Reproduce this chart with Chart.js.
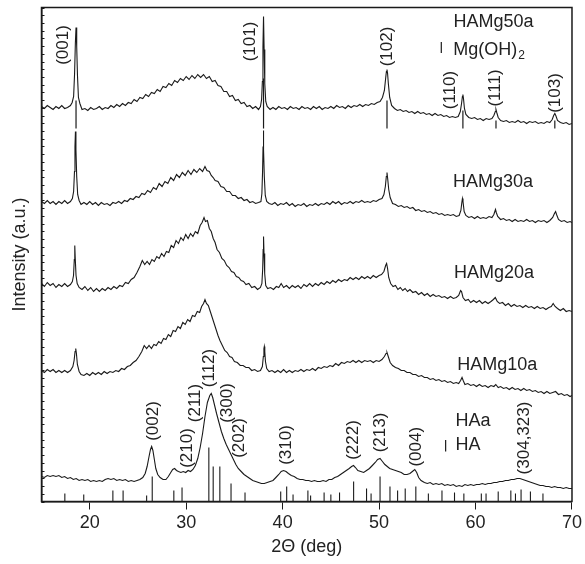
<!DOCTYPE html>
<html>
<head>
<meta charset="utf-8">
<script src="https://cdn.jsdelivr.net/npm/chart.js@4.4.1/dist/chart.umd.min.js"></script>
<style>
  html, body { margin: 0; padding: 0; background: #fff; }
  #wrap { width: 585px; height: 564px; position: relative; }
</style>
</head>
<body>
<div id="wrap"><canvas id="xrd"></canvas></div>
<script>
// [2θ (deg), intensity (a.u.)] - curves are stacked with an offset, as in the figure
const hamg50a = [[15.0,395],[15.3,393],[15.6,396],[15.9,394],[16.2,392],[16.5,395],[16.8,393],[17.1,396],[17.4,393],[17.7,394],[18.0,396],[18.18,399],[18.33,405],[18.43,428],[18.51,458],[18.58,474],[18.65,455],[18.73,426],[18.83,404],[18.98,398],[19.2,392],[19.5,393],[19.8,391],[20.1,394],[20.4,392],[20.7,393],[21.0,395],[21.3,392],[21.6,394],[21.9,393],[22.2,396],[22.5,394],[22.8,397],[23.1,395],[23.4,398],[23.7,396],[24.0,399],[24.3,398],[24.6,402],[24.9,400],[25.2,404],[25.5,403],[25.8,407],[26.1,405],[26.4,409],[26.7,408],[27.0,412],[27.3,410],[27.6,415],[27.9,414],[28.2,418],[28.5,416],[28.8,421],[29.1,419],[29.4,423],[29.7,421],[30.0,425],[30.3,422],[30.6,426],[30.9,423],[31.2,427],[31.5,424],[31.8,427],[32.1,423],[32.4,425],[32.7,420],[33.0,421],[33.3,416],[33.6,415],[33.9,410],[34.2,410],[34.5,405],[34.8,406],[35.1,401],[35.4,402],[35.7,398],[36.0,399],[36.3,395],[36.6,396],[36.9,393],[37.2,395],[37.5,392],[37.7,395],[37.82,402],[37.9,420],[37.96,455],[38.02,485],[38.08,452],[38.15,418],[38.25,400],[38.4,395],[38.7,392],[39.0,394],[39.3,392],[39.6,395],[39.9,393],[40.2,394],[40.5,392],[40.8,395],[41.1,393],[41.4,394],[41.7,392],[42.0,395],[42.3,393],[42.6,394],[42.9,392],[43.2,395],[43.5,393],[43.8,395],[44.1,392],[44.4,394],[44.7,393],[45.0,395],[45.3,393],[45.6,396],[45.9,394],[46.2,395],[46.5,393],[46.8,396],[47.1,394],[47.4,396],[47.7,395],[48.0,397],[48.3,395],[48.6,397],[48.9,396],[49.2,398],[49.5,397],[49.8,399],[50.1,400],[50.35,404],[50.55,411],[50.7,425],[50.76,430],[50.82,432],[50.88,428],[50.96,418],[51.1,404],[51.3,396],[51.6,393],[51.9,391],[52.2,392],[52.5,390],[52.8,391],[53.1,389],[53.4,390],[53.7,388],[54.0,390],[54.3,388],[54.6,389],[54.9,387],[55.2,388],[55.5,386],[55.8,388],[56.1,386],[56.4,387],[56.7,385],[57.0,386],[57.3,384],[57.6,385],[57.9,384],[58.2,385],[58.42,390],[58.55,398],[58.64,405],[58.69,407],[58.75,403],[58.85,393],[59.0,387],[59.3,384],[59.6,383],[59.9,384],[60.2,382],[60.5,383],[60.8,381],[61.1,383],[61.4,382],[61.7,383],[61.9,386],[62.05,390],[62.12,392],[62.2,389],[62.35,384],[62.6,381],[62.9,380],[63.2,381],[63.5,379],[63.8,380],[64.1,379],[64.4,381],[64.7,379],[65.0,380],[65.3,378],[65.6,380],[65.9,379],[66.2,380],[66.5,378],[66.8,379],[67.1,378],[67.4,380],[67.7,379],[67.95,382],[68.1,386],[68.22,388],[68.32,386],[68.5,381],[68.8,379],[69.1,378],[69.4,379],[69.7,377],[70.0,378]]

const hamg30a = [[15.0,300],[15.3,298],[15.6,301],[15.9,298],[16.2,300],[16.5,297],[16.8,300],[17.1,298],[17.4,301],[17.7,298],[18.0,300],[18.2,303],[18.33,310],[18.42,330],[18.47,355],[18.52,370],[18.57,352],[18.65,325],[18.75,307],[18.9,301],[19.1,297],[19.4,299],[19.7,297],[20.0,300],[20.3,297],[20.6,299],[20.9,296],[21.2,299],[21.5,297],[21.8,298],[22.1,296],[22.4,299],[22.7,298],[23.0,300],[23.3,298],[23.6,301],[23.9,300],[24.2,303],[24.5,302],[24.8,305],[25.1,304],[25.4,308],[25.7,307],[26.0,311],[26.3,309],[26.6,314],[26.9,312],[27.2,318],[27.5,315],[27.8,320],[28.1,318],[28.4,324],[28.7,321],[29.0,327],[29.3,324],[29.6,329],[29.9,326],[30.2,331],[30.5,327],[30.8,332],[31.1,329],[31.4,333],[31.7,330],[31.95,335],[32.15,331],[32.4,330],[32.6,326],[32.8,324],[33.0,321],[33.3,320],[33.6,315],[33.9,314],[34.2,310],[34.5,310],[34.8,306],[35.1,306],[35.4,303],[35.7,304],[36.0,301],[36.3,302],[36.6,299],[36.9,300],[37.2,298],[37.5,299],[37.75,300],[37.85,308],[37.92,330],[37.97,355],[38.0,371],[38.04,352],[38.1,325],[38.2,306],[38.35,300],[38.6,298],[38.9,297],[39.2,299],[39.5,296],[39.8,298],[40.1,297],[40.4,299],[40.7,296],[41.0,298],[41.3,295],[41.6,297],[41.9,296],[42.2,298],[42.5,295],[42.8,297],[43.1,296],[43.4,298],[43.7,296],[44.0,298],[44.3,297],[44.6,299],[44.9,297],[45.2,300],[45.5,298],[45.8,300],[46.1,297],[46.4,299],[46.7,298],[47.0,300],[47.3,298],[47.6,300],[47.9,299],[48.2,301],[48.5,299],[48.8,300],[49.1,299],[49.4,301],[49.7,300],[50.0,302],[50.3,303],[50.5,307],[50.65,315],[50.75,325],[50.82,329],[50.9,322],[51.0,312],[51.15,304],[51.4,298],[51.7,297],[52.0,295],[52.3,296],[52.6,294],[52.9,295],[53.2,293],[53.5,294],[53.8,291],[54.1,292],[54.4,290],[54.7,291],[55.0,289],[55.3,290],[55.6,288],[55.9,289],[56.2,287],[56.5,288],[56.8,286],[57.1,287],[57.4,286],[57.7,287],[58.0,285],[58.3,286],[58.48,291],[58.58,299],[58.64,303],[58.7,300],[58.82,290],[59.0,286],[59.3,284],[59.6,285],[59.9,283],[60.2,285],[60.5,283],[60.8,284],[61.1,283],[61.4,285],[61.7,284],[61.9,287],[62.0,290],[62.07,292],[62.15,289],[62.3,285],[62.6,282],[62.9,283],[63.2,281],[63.5,282],[63.8,280],[64.1,282],[64.4,280],[64.7,281],[65.0,280],[65.3,282],[65.6,280],[65.9,281],[66.2,279],[66.5,281],[66.8,280],[67.1,281],[67.4,279],[67.7,281],[68.0,284],[68.18,288],[68.3,290],[68.4,287],[68.6,282],[68.9,280],[69.2,281],[69.5,279],[69.8,280],[70.0,279]]

const hamg20a = [[15.0,218],[15.3,215],[15.6,219],[15.9,216],[16.2,218],[16.5,214],[16.8,217],[17.1,215],[17.4,218],[17.7,215],[18.0,217],[18.2,220],[18.32,226],[18.4,242],[18.45,256],[18.5,243],[18.58,226],[18.7,218],[18.9,214],[19.2,212],[19.5,215],[19.8,211],[20.1,214],[20.4,210],[20.7,213],[21.0,210],[21.3,213],[21.6,211],[21.9,214],[22.2,212],[22.5,215],[22.8,213],[23.1,216],[23.4,215],[23.7,219],[24.0,218],[24.3,222],[24.6,224],[24.9,229],[25.2,235],[25.45,241],[25.7,237],[25.95,240],[26.2,237],[26.45,242],[26.7,240],[26.95,245],[27.2,243],[27.45,248],[27.7,245],[27.95,250],[28.2,249],[28.45,256],[28.7,254],[28.95,261],[29.2,258],[29.45,264],[29.7,261],[29.95,267],[30.2,263],[30.45,268],[30.7,265],[30.95,270],[31.2,268],[31.45,276],[31.65,279],[31.85,284],[32.0,280],[32.2,281],[32.4,273],[32.6,270],[32.8,263],[33.0,259],[33.2,252],[33.45,249],[33.7,243],[33.95,241],[34.2,236],[34.45,234],[34.7,230],[34.95,229],[35.2,225],[35.45,224],[35.7,221],[35.95,220],[36.2,217],[36.5,218],[36.8,214],[37.1,215],[37.4,212],[37.7,214],[37.85,218],[37.93,232],[37.98,252],[38.02,265],[38.07,248],[38.14,228],[38.25,216],[38.45,213],[38.75,214],[39.05,212],[39.35,215],[39.6,214],[39.85,218],[40.1,214],[40.4,216],[40.7,213],[41.0,216],[41.3,214],[41.6,216],[41.9,213],[42.2,217],[42.5,215],[42.8,218],[43.1,215],[43.4,218],[43.7,216],[44.0,219],[44.3,217],[44.6,220],[44.9,218],[45.2,221],[45.5,219],[45.8,222],[46.1,220],[46.4,222],[46.7,221],[47.0,224],[47.3,222],[47.6,224],[47.9,222],[48.2,225],[48.5,223],[48.8,225],[49.1,223],[49.4,226],[49.7,224],[50.0,226],[50.25,227],[50.5,230],[50.68,236],[50.78,238],[50.88,233],[51.0,224],[51.2,218],[51.45,215],[51.7,216],[51.95,212],[52.2,214],[52.45,211],[52.7,213],[52.95,210],[53.2,212],[53.5,209],[53.8,210],[54.1,207],[54.4,209],[54.7,206],[55.0,208],[55.3,205],[55.6,207],[55.9,205],[56.2,206],[56.5,204],[56.8,205],[57.1,203],[57.4,205],[57.7,203],[58.0,204],[58.25,206],[58.45,211],[58.55,210],[58.7,204],[58.95,201],[59.25,202],[59.5,199],[59.8,201],[60.1,199],[60.4,201],[60.7,198],[61.0,200],[61.3,198],[61.6,200],[61.85,202],[62.05,204],[62.25,200],[62.5,198],[62.8,199],[63.1,196],[63.4,198],[63.7,195],[64.0,197],[64.3,195],[64.6,196],[64.9,194],[65.2,196],[65.5,194],[65.8,195],[66.1,193],[66.4,195],[66.7,193],[67.0,194],[67.3,192],[67.6,194],[67.85,195],[68.05,198],[68.25,195],[68.5,193],[68.8,191],[69.1,193],[69.4,190],[69.7,191],[70.0,190]]

const hamg10a = [[15.0,131],[15.3,129],[15.6,132],[15.9,130],[16.2,132],[16.5,129],[16.8,131],[17.1,129],[17.4,131],[17.7,129],[18.0,131],[18.25,135],[18.38,141],[18.48,150],[18.55,153],[18.62,148],[18.72,137],[18.9,130],[19.1,127],[19.4,126],[19.7,128],[20.0,126],[20.3,129],[20.6,127],[20.9,129],[21.2,127],[21.5,130],[21.8,128],[22.1,130],[22.4,129],[22.7,131],[23.0,130],[23.3,133],[23.6,132],[23.9,135],[24.2,136],[24.5,139],[24.8,141],[25.1,145],[25.4,150],[25.65,156],[25.9,153],[26.15,156],[26.4,153],[26.65,157],[26.9,156],[27.15,160],[27.4,158],[27.65,163],[27.9,162],[28.15,167],[28.4,165],[28.65,171],[28.9,170],[29.15,175],[29.4,173],[29.65,179],[29.9,177],[30.15,182],[30.4,180],[30.65,186],[30.9,185],[31.15,190],[31.4,189],[31.6,195],[31.8,198],[31.95,202],[32.1,198],[32.3,196],[32.5,190],[32.7,184],[32.9,178],[33.1,172],[33.3,166],[33.5,161],[33.75,156],[34.0,151],[34.25,149],[34.5,145],[34.75,144],[35.0,140],[35.3,139],[35.6,136],[35.9,136],[36.2,134],[36.5,134],[36.8,131],[37.1,132],[37.4,130],[37.7,131],[37.9,135],[38.0,145],[38.06,153],[38.1,155],[38.15,150],[38.22,140],[38.35,133],[38.6,130],[38.9,131],[39.2,129],[39.5,131],[39.8,129],[40.1,132],[40.4,129],[40.7,131],[41.0,129],[41.3,131],[41.6,130],[41.9,132],[42.2,130],[42.5,132],[42.8,131],[43.1,133],[43.4,131],[43.7,134],[44.0,133],[44.3,135],[44.6,134],[44.9,136],[45.2,135],[45.5,138],[45.8,136],[46.1,139],[46.4,138],[46.7,140],[47.0,139],[47.3,141],[47.6,139],[47.9,141],[48.2,139],[48.5,141],[48.8,140],[49.1,141],[49.4,139],[49.7,141],[50.0,140],[50.3,142],[50.55,145],[50.72,148],[50.82,149],[50.95,145],[51.15,139],[51.4,136],[51.7,134],[52.0,133],[52.3,131],[52.6,131],[52.9,129],[53.2,129],[53.5,127],[53.8,127],[54.1,125],[54.4,126],[54.7,124],[55.0,124],[55.3,122],[55.6,123],[55.9,121],[56.2,122],[56.5,120],[56.8,121],[57.1,119],[57.4,120],[57.7,118],[58.0,119],[58.25,118],[58.45,121],[58.6,124],[58.72,121],[58.9,117],[59.2,118],[59.5,116],[59.8,117],[60.1,115],[60.4,117],[60.7,115],[61.0,116],[61.3,114],[61.6,116],[61.9,115],[62.1,117],[62.35,114],[62.6,115],[62.9,113],[63.2,114],[63.5,112],[63.8,114],[64.1,112],[64.4,113],[64.7,111],[65.0,113],[65.3,111],[65.6,112],[65.9,110],[66.2,111],[66.5,109],[66.8,110],[67.1,108],[67.4,110],[67.7,108],[68.0,109],[68.3,110],[68.6,107],[68.9,108],[69.2,106],[69.5,107],[69.8,105],[70.0,106]]

const haa = [[15.0,25],[15.3,24],[15.6,26],[15.9,25],[16.2,26],[16.5,25],[16.8,26],[17.1,24],[17.4,25],[17.7,23],[18.0,24],[18.3,22],[18.6,23],[18.9,21],[19.2,22],[19.5,21],[19.8,22],[20.1,20],[20.4,21],[20.7,20],[21.0,21],[21.3,20],[21.6,22],[21.9,23],[22.2,22],[22.5,23],[22.8,21],[23.1,22],[23.4,21],[23.7,22],[24.0,20],[24.3,21],[24.6,20],[24.9,21],[25.2,22],[25.5,24],[25.75,28],[25.95,35],[26.15,45],[26.3,52],[26.42,55],[26.55,51],[26.7,42],[26.85,33],[27.05,27],[27.3,24],[27.6,22],[27.9,22],[28.15,25],[28.4,29],[28.6,32],[28.8,33],[29.0,31],[29.2,30],[29.45,29],[29.7,30],[29.95,29],[30.2,31],[30.45,30],[30.7,32],[30.95,36],[31.2,43],[31.45,54],[31.7,68],[31.95,85],[32.2,99],[32.45,106],[32.6,108],[32.75,104],[32.95,96],[33.15,88],[33.4,79],[33.65,70],[33.9,63],[34.15,57],[34.4,52],[34.65,47],[34.9,42],[35.15,37],[35.4,33],[35.7,30],[36.0,27],[36.3,25],[36.6,23],[36.9,21],[37.2,20],[37.5,19],[37.8,18],[38.1,18],[38.4,19],[38.7,20],[39.0,21],[39.3,24],[39.6,27],[39.85,30],[40.1,31],[40.35,30],[40.6,28],[40.9,26],[41.2,25],[41.5,23],[41.8,22],[42.1,22],[42.4,21],[42.7,21],[43.0,20],[43.3,21],[43.6,20],[43.9,20],[44.2,21],[44.5,20],[44.8,22],[45.1,22],[45.4,24],[45.7,25],[46.0,27],[46.3,29],[46.6,31],[46.9,33],[47.15,35],[47.35,36],[47.55,34],[47.8,31],[48.1,30],[48.4,29],[48.7,31],[49.0,33],[49.3,36],[49.6,39],[49.85,42],[50.1,43],[50.35,40],[50.6,37],[50.85,35],[51.1,33],[51.4,32],[51.7,31],[52.0,30],[52.3,29],[52.6,27],[52.9,27],[53.2,28],[53.45,30],[53.7,32],[53.9,29],[54.1,24],[54.35,21],[54.7,19],[55.0,18],[55.3,19],[55.6,17],[55.9,18],[56.2,17],[56.5,18],[56.8,16],[57.1,17],[57.4,16],[57.7,17],[58.0,15],[58.3,16],[58.6,15],[58.9,17],[59.2,16],[59.5,17],[59.8,16],[60.1,17],[60.4,17],[60.7,18],[61.0,17],[61.3,18],[61.6,18],[61.9,19],[62.2,19],[62.5,20],[62.8,20],[63.1,21],[63.4,21],[63.7,22],[64.0,22],[64.3,23],[64.6,23],[64.9,22],[65.2,21],[65.5,20],[65.8,19],[66.1,18],[66.4,17],[66.7,16],[67.0,16],[67.3,15],[67.6,15],[67.9,14],[68.2,15],[68.5,14],[68.8,14],[69.1,13],[69.4,14],[69.7,13],[70.0,13]]

// reference patterns (stick positions and heights)
const mgPeaks = [18.58, 38.02, 50.82, 58.69, 62.12, 68.22]
const mgHeights = [28, 50, 28, 18, 8, 8]
const mgBase = 373
const haPeaks = [17.42, 19.38, 22.4, 23.46, 25.9, 26.48, 28.72, 29.57, 32.35, 32.8, 33.49, 34.65, 36.1, 39.8, 40.42, 41.08, 42.62, 42.9, 44.3, 45.0, 45.9, 47.36, 48.7, 49.17, 50.1, 51.13, 51.92, 52.71, 53.81, 55.11, 56.52, 57.82, 58.79, 60.6, 61.09, 62.35, 63.66, 64.14, 64.72, 65.69, 66.99]
const haHeights = [8, 7, 11, 11, 6, 25, 11, 14, 54, 35, 35, 18, 9, 10, 15, 7, 11, 6, 9, 7, 9, 20, 13, 8, 25, 15, 11, 13, 15, 8, 11, 9, 8, 8, 8, 10, 11, 8, 12, 10, 8]
const haBase = 0

const xTicks = [20, 30, 40, 50, 60, 70]

// text placed in data coordinates
const hklLabels = [
  ['(001)', 17.25, 456.5], ['(101)', 36.65, 460], ['(102)', 50.89, 455],
  ['(110)', 57.41, 411.5], ['(111)', 62.04, 413.5], ['(103)', 68.22, 408.5],
  ['(002)', 26.59, 80.5], ['(210)', 30.09, 53.5], ['(211)', 30.98, 98.5],
  ['(112)', 32.35, 133.5], ['(300)', 34.31, 98.5], ['(202)', 35.55, 63.5],
  ['(310)', 40.42, 56.5], ['(222)', 47.29, 61.5], ['(213)', 50.14, 69],
  ['(004)', 53.81, 54.8], ['(304,323)', 65.03, 63.5],
]
const sampleLabels = [
  ['HAMg50a', 57.72, 479.5], ['HAMg30a', 57.66, 319.5], ['HAMg20a', 57.76, 228],
  ['HAMg10a', 58.1, 136.5], ['HAa', 57.93, 80], ['HA', 57.93, 56.5],
]

const FONT = '"Liberation Sans", Arial, Helvetica, sans-serif'
const INK = '#1a1a1a'

const sticks = (pos, h, base) => pos.flatMap((p, i) => [[p, base], [p, base + h[i]], [p, null]])

const trace = (data) => ({
  data,
  borderColor: INK,
  borderWidth: 1.1,
  pointRadius: 0,
  tension: 0,
})

const textLayer = {
  id: 'textLayer',
  afterDatasetsDraw(chart) {
    const { ctx, chartArea: a, scales: { x, y } } = chart
    ctx.save()

    // frame
    ctx.strokeStyle = INK
    ctx.lineWidth = 1.5
    ctx.strokeRect(a.left, a.top, a.right - a.left, a.bottom - a.top)

    // small inward ticks on the intensity axis
    ctx.lineWidth = 1
    y.ticks.forEach((t) => {
      const py = Math.round(y.getPixelForValue(t.value)) + 0.5
      ctx.beginPath()
      ctx.moveTo(a.left, py)
      ctx.lineTo(a.left + 3, py)
      ctx.stroke()
    })

    // (hkl) labels, rotated
    ctx.fillStyle = '#222'
    ctx.font = '17px ' + FONT
    ctx.textAlign = 'center'
    ctx.textBaseline = 'middle'
    hklLabels.forEach(([t, tx, ty]) => {
      ctx.save()
      ctx.translate(x.getPixelForValue(tx), y.getPixelForValue(ty))
      ctx.rotate(-Math.PI / 2)
      ctx.fillText(t, 0, 0)
      ctx.restore()
    })

    // sample names
    ctx.font = '18px ' + FONT
    ctx.textAlign = 'left'
    sampleLabels.forEach(([t, tx, ty]) => {
      ctx.fillText(t, x.getPixelForValue(tx), y.getPixelForValue(ty))
    })
    const mx = x.getPixelForValue(57.69)
    const my = y.getPixelForValue(451.5)
    ctx.fillText('Mg(OH)', mx, my)
    const w = ctx.measureText('Mg(OH)').width
    ctx.font = '12px ' + FONT
    ctx.fillText('2', mx + w + 1, my + 6)

    // legend sticks
    ctx.lineWidth = 1.2
    ;[[56.45, 448.5, 459.5], [56.9, 50, 61.5]].forEach(([sx, y0, y1]) => {
      const px = x.getPixelForValue(sx)
      ctx.beginPath()
      ctx.moveTo(px, y.getPixelForValue(y0))
      ctx.lineTo(px, y.getPixelForValue(y1))
      ctx.stroke()
    })
    ctx.restore()
  },
}

new Chart(document.getElementById('xrd'), {
  type: 'line',
  data: {
    datasets: [
      trace(hamg50a),
      trace(hamg30a),
      trace(hamg20a),
      trace(hamg10a),
      trace(haa),
      { data: sticks(mgPeaks, mgHeights, mgBase), borderColor: INK, borderWidth: 1.2, pointRadius: 0, spanGaps: false },
      { data: sticks(haPeaks, haHeights, haBase), borderColor: INK, borderWidth: 1.1, pointRadius: 0, spanGaps: false },
    ],
  },
  options: {
    responsive: true,
    maintainAspectRatio: false,
    animation: false,
    events: [],
    devicePixelRatio: 1,
    layout: { padding: { top: 7.5, right: 9.5, bottom: 0, left: 0 } },
    plugins: {
      legend: { display: false },
      tooltip: { enabled: false },
    },
    scales: {
      x: {
        type: 'linear',
        min: 15,
        max: 70,
        afterBuildTicks: (s) => { s.ticks = xTicks.map((v) => ({ value: v })) },
        afterFit: (s) => { s.height = 62.5 },
        ticks: { color: '#222', font: { family: FONT, size: 18 }, padding: 3, maxRotation: 0 },
        grid: { drawOnChartArea: false, drawTicks: true, tickLength: 8, color: INK, tickWidth: 1 },
        border: { display: true, color: INK, width: 1.5 },
        title: { display: true, text: '2Θ (deg)', color: '#222', font: { family: FONT, size: 18 }, padding: { top: 0, bottom: 6 } },
      },
      y: {
        min: 0,
        max: 494,
        afterBuildTicks: (s) => { s.ticks = Array.from({ length: 65 }, (_, i) => ({ value: (i * 494) / 64 })) },
        afterFit: (s) => { s.width = 41.5 },
        ticks: { display: false },
        grid: { display: false },
        border: { display: true, color: INK, width: 1.5 },
        title: { display: true, text: 'Intensity (a.u.)', color: '#222', font: { family: FONT, size: 18 }, padding: { top: 9, bottom: 0 } },
      },
    },
  },
  plugins: [textLayer],
})
</script>
</body>
</html>
